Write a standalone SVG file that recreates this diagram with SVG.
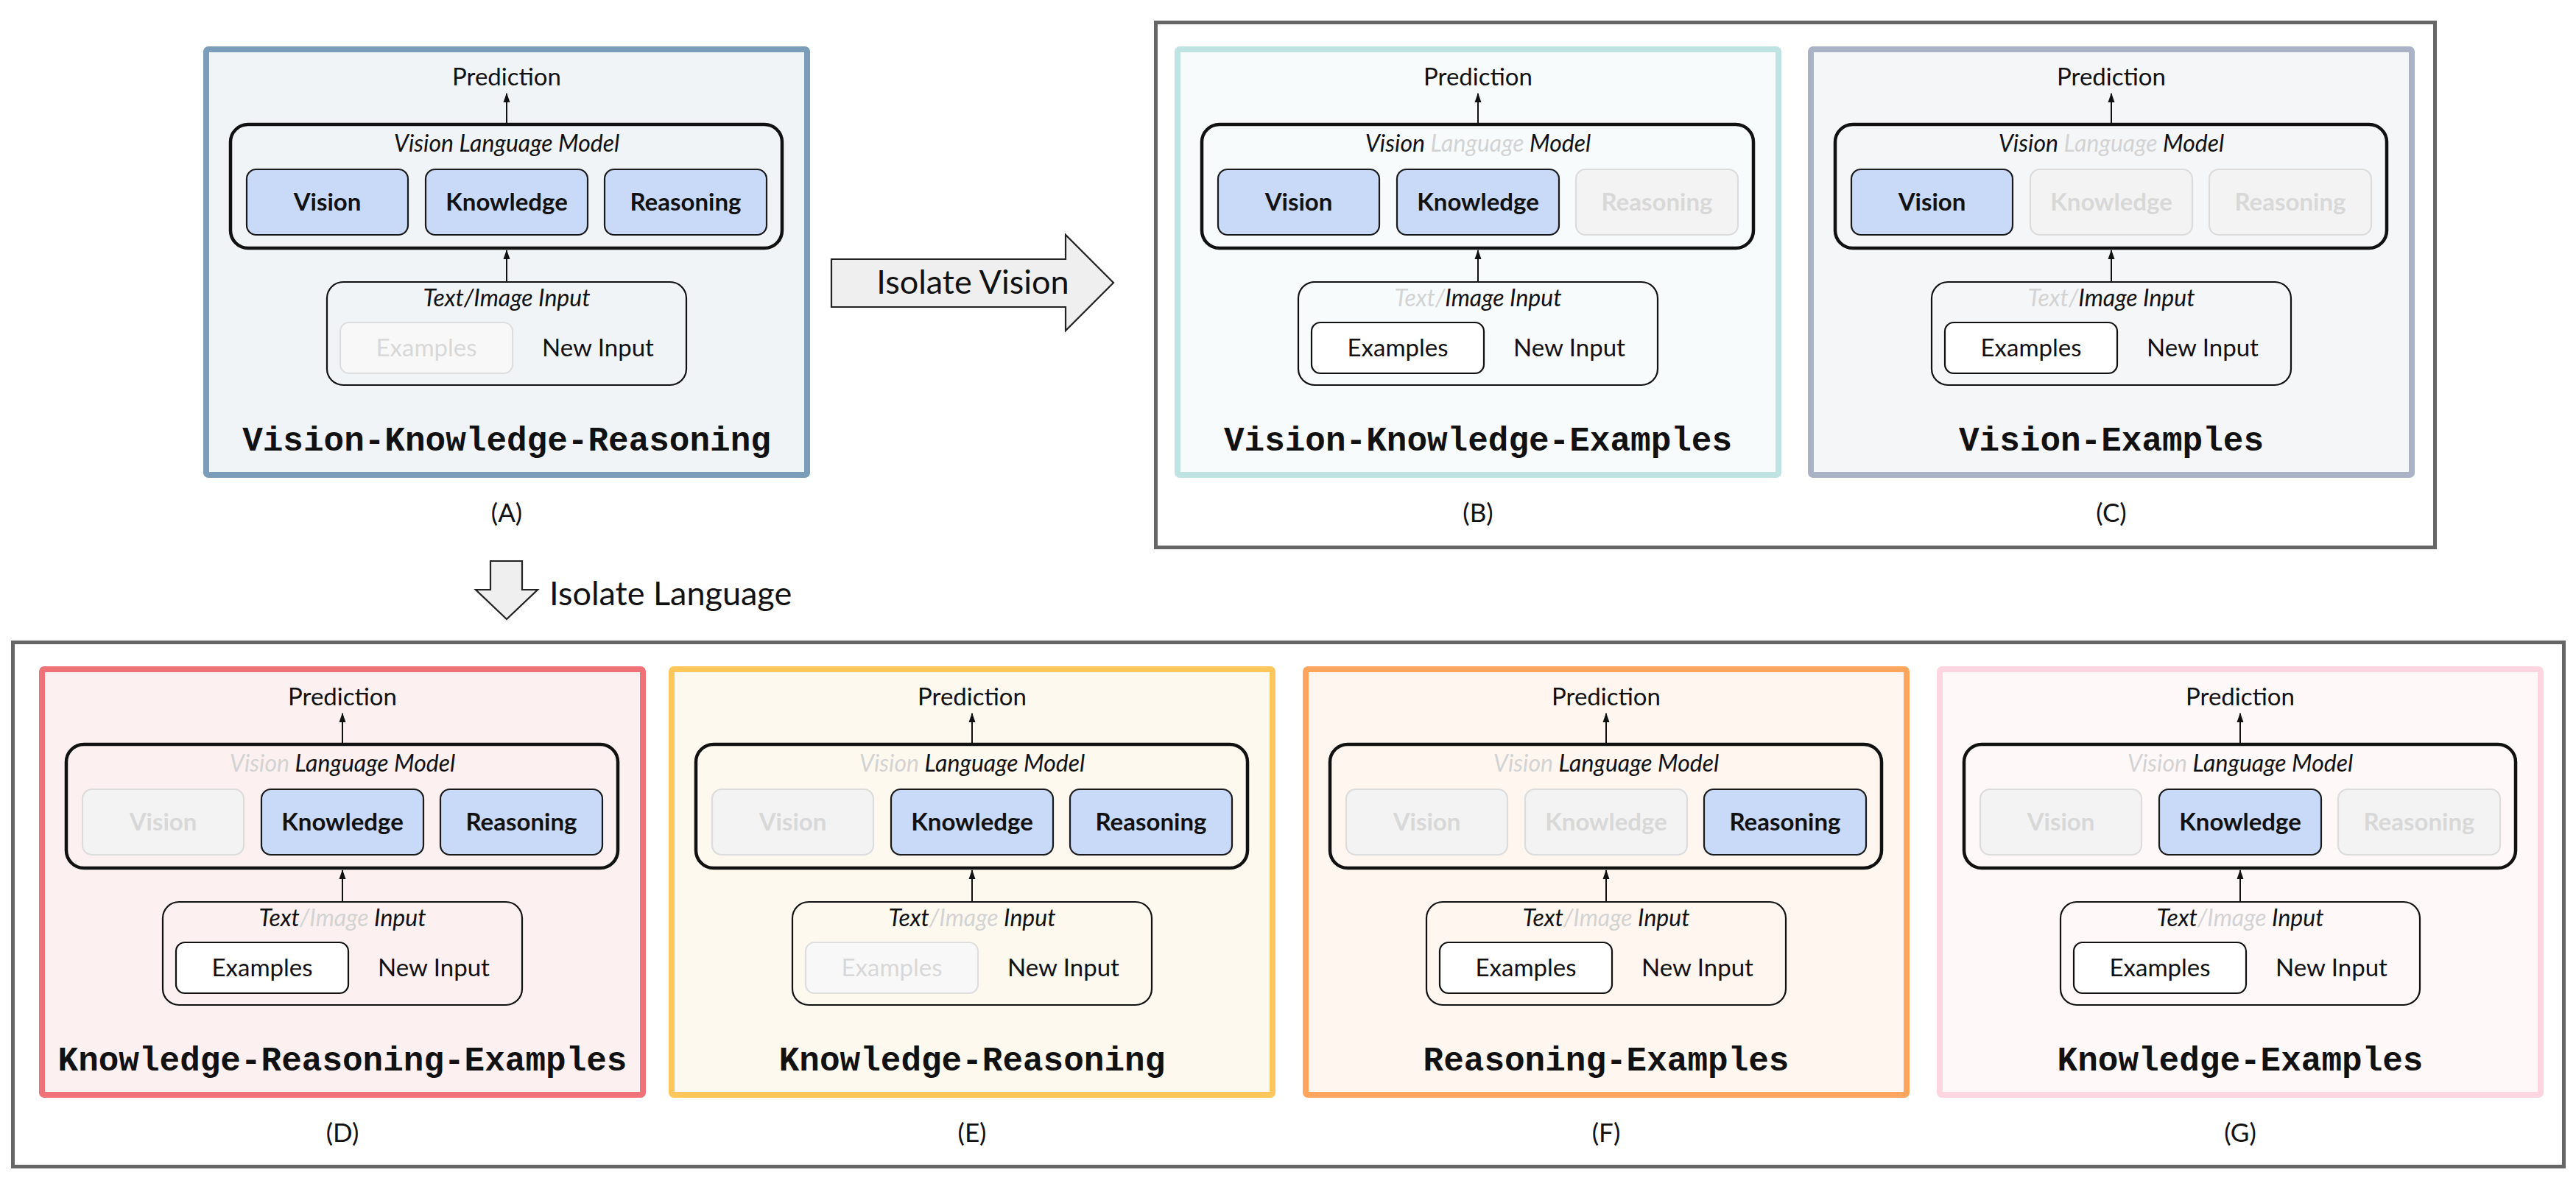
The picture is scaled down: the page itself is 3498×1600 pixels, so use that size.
<svg xmlns="http://www.w3.org/2000/svg" width="3498" height="1600" viewBox="0 0 3498 1600">
<style>
text{font-family:Lato,"Open Sans","Liberation Sans",sans-serif;fill:#111;text-anchor:middle}
.pred{font-size:33px}
.it{font-size:32px;font-style:italic}
.b{font-size:33px;font-weight:bold}
.r{font-size:33px}
.title{font-family:"Liberation Mono","Courier New",monospace;font-weight:bold;font-size:46px}
.lab{font-size:35px}
.fd{fill:#d3d3d3}
.fdt{fill:#d8d8d8}
.panel{stroke-width:8}
.pA{fill:#f1f4f6;stroke:#7b9db9}
.pB{fill:#f7fbfc;stroke:#bfe3e3}
.pC{fill:#f5f6f8;stroke:#aab3c6}
.pD{fill:#fcf0f0;stroke:#ee7278}
.pE{fill:#fef9ee;stroke:#ffc75b}
.pF{fill:#fff6ef;stroke:#ffa55e}
.pG{fill:#fff8f9;stroke:#ffd5e2}
.vlm{fill:none;stroke:#111;stroke-width:4.5}
.inp{fill:none;stroke:#111;stroke-width:2.2}
.on{fill:#c9daf8;stroke:#1a1a1a;stroke-width:2.2}
.off{fill:#f3f3f3;stroke:#dcdcdc;stroke-width:2.2}
.exon{fill:#fff;stroke:#111;stroke-width:2.2}
.exoff{fill:#f8f8f8;stroke:#dedede;stroke-width:2.2}
.outer{fill:none;stroke:#666;stroke-width:5}
.big{fill:#efefef;stroke:#222;stroke-width:2.2}
.bigt{font-size:45px}
.conn line{stroke:#111;stroke-width:2;marker-end:url(#ah)}
</style>
<defs>
<marker id="ah" markerUnits="userSpaceOnUse" markerWidth="14" markerHeight="10" refX="12" refY="5" orient="auto">
<path d="M0,0.5 L13,5 L0,9.5 z" fill="#111"/>
</marker>
</defs>
<rect width="3498" height="1600" fill="#fff"/>

<g id="group-vision"><rect class="outer" x="1569.5" y="30.5" width="1737" height="713"/></g>
<g id="group-language"><rect class="outer" x="17.5" y="872.5" width="3464" height="712"/></g>

<g id="isolate-vision">
<polygon class="big" points="1129,352 1447,352 1447,319 1512,384 1447,449 1447,417 1129,417"/>
<text class="bigt" x="1321" y="399">Isolate Vision</text>
</g>
<g id="isolate-language">
<polygon class="big" points="666,762 709,762 709,801 730,801 688,841 646,801 666,801"/>
<text class="bigt" x="746" y="822" style="text-anchor:start">Isolate Language</text>
</g>

<!-- A -->
<g id="panel-A" transform="translate(688,0)">
<rect class="panel pA" x="-408" y="67" width="816" height="578" rx="3"/>
<text class="pred" x="0" y="116">Prediction</text>
<rect class="vlm" x="-375" y="169" width="749" height="168" rx="24"/>
<text class="it" x="0" y="206">Vision Language Model</text>
<rect class="on" x="-353" y="230" width="219" height="89" rx="13"/><text class="b" x="-243.5" y="286">Vision</text>
<rect class="on" x="-110" y="230" width="220" height="89" rx="13"/><text class="b" x="0" y="286">Knowledge</text>
<rect class="on" x="133" y="230" width="220" height="89" rx="13"/><text class="b" x="243" y="286">Reasoning</text>
<rect class="inp" x="-244" y="383" width="488" height="140" rx="22"/>
<text class="it" x="0" y="416">Text/Image Input</text>
<rect class="exoff" x="-226" y="438" width="234" height="69" rx="12"/><text class="r fdt" x="-109" y="484">Examples</text>
<text class="r" x="124" y="484">New Input</text>
<text class="title" x="0" y="612">Vision-Knowledge-Reasoning</text>
<text class="lab" x="0" y="709">(A)</text>
</g>

<!-- B -->
<g id="panel-B" transform="translate(2007,0)">
<rect class="panel pB" x="-408" y="67" width="816" height="578" rx="3"/>
<text class="pred" x="0" y="116">Prediction</text>
<rect class="vlm" x="-375" y="169" width="749" height="168" rx="24"/>
<text class="it" x="0" y="206">Vision <tspan class="fd">Language</tspan> Model</text>
<rect class="on" x="-353" y="230" width="219" height="89" rx="13"/><text class="b" x="-243.5" y="286">Vision</text>
<rect class="on" x="-110" y="230" width="220" height="89" rx="13"/><text class="b" x="0" y="286">Knowledge</text>
<rect class="off" x="133" y="230" width="220" height="89" rx="13"/><text class="b fdt" x="243" y="286">Reasoning</text>
<rect class="inp" x="-244" y="383" width="488" height="140" rx="22"/>
<text class="it" x="0" y="416"><tspan class="fd">Text/</tspan>Image Input</text>
<rect class="exon" x="-226" y="438" width="234" height="69" rx="12"/><text class="r" x="-109" y="484">Examples</text>
<text class="r" x="124" y="484">New Input</text>
<text class="title" x="0" y="612">Vision-Knowledge-Examples</text>
<text class="lab" x="0" y="709">(B)</text>
</g>

<!-- C -->
<g id="panel-C" transform="translate(2867,0)">
<rect class="panel pC" x="-408" y="67" width="816" height="578" rx="3"/>
<text class="pred" x="0" y="116">Prediction</text>
<rect class="vlm" x="-375" y="169" width="749" height="168" rx="24"/>
<text class="it" x="0" y="206">Vision <tspan class="fd">Language</tspan> Model</text>
<rect class="on" x="-353" y="230" width="219" height="89" rx="13"/><text class="b" x="-243.5" y="286">Vision</text>
<rect class="off" x="-110" y="230" width="220" height="89" rx="13"/><text class="b fdt" x="0" y="286">Knowledge</text>
<rect class="off" x="133" y="230" width="220" height="89" rx="13"/><text class="b fdt" x="243" y="286">Reasoning</text>
<rect class="inp" x="-244" y="383" width="488" height="140" rx="22"/>
<text class="it" x="0" y="416"><tspan class="fd">Text/</tspan>Image Input</text>
<rect class="exon" x="-226" y="438" width="234" height="69" rx="12"/><text class="r" x="-109" y="484">Examples</text>
<text class="r" x="124" y="484">New Input</text>
<text class="title" x="0" y="612">Vision-Examples</text>
<text class="lab" x="0" y="709">(C)</text>
</g>

<!-- D -->
<g id="panel-D" transform="translate(465,842)">
<rect class="panel pD" x="-408" y="67" width="816" height="578" rx="3"/>
<text class="pred" x="0" y="116">Prediction</text>
<rect class="vlm" x="-375" y="169" width="749" height="168" rx="24"/>
<text class="it" x="0" y="206"><tspan class="fd">Vision</tspan> Language Model</text>
<rect class="off" x="-353" y="230" width="219" height="89" rx="13"/><text class="b fdt" x="-243.5" y="286">Vision</text>
<rect class="on" x="-110" y="230" width="220" height="89" rx="13"/><text class="b" x="0" y="286">Knowledge</text>
<rect class="on" x="133" y="230" width="220" height="89" rx="13"/><text class="b" x="243" y="286">Reasoning</text>
<rect class="inp" x="-244" y="383" width="488" height="140" rx="22"/>
<text class="it" x="0" y="416">Text<tspan class="fd">/Image</tspan> Input</text>
<rect class="exon" x="-226" y="438" width="234" height="69" rx="12"/><text class="r" x="-109" y="484">Examples</text>
<text class="r" x="124" y="484">New Input</text>
<text class="title" x="0" y="612">Knowledge-Reasoning-Examples</text>
<text class="lab" x="0" y="709">(D)</text>
</g>

<!-- E -->
<g id="panel-E" transform="translate(1320,842)">
<rect class="panel pE" x="-408" y="67" width="816" height="578" rx="3"/>
<text class="pred" x="0" y="116">Prediction</text>
<rect class="vlm" x="-375" y="169" width="749" height="168" rx="24"/>
<text class="it" x="0" y="206"><tspan class="fd">Vision</tspan> Language Model</text>
<rect class="off" x="-353" y="230" width="219" height="89" rx="13"/><text class="b fdt" x="-243.5" y="286">Vision</text>
<rect class="on" x="-110" y="230" width="220" height="89" rx="13"/><text class="b" x="0" y="286">Knowledge</text>
<rect class="on" x="133" y="230" width="220" height="89" rx="13"/><text class="b" x="243" y="286">Reasoning</text>
<rect class="inp" x="-244" y="383" width="488" height="140" rx="22"/>
<text class="it" x="0" y="416">Text<tspan class="fd">/Image</tspan> Input</text>
<rect class="exoff" x="-226" y="438" width="234" height="69" rx="12"/><text class="r fdt" x="-109" y="484">Examples</text>
<text class="r" x="124" y="484">New Input</text>
<text class="title" x="0" y="612">Knowledge-Reasoning</text>
<text class="lab" x="0" y="709">(E)</text>
</g>

<!-- F -->
<g id="panel-F" transform="translate(2181,842)">
<rect class="panel pF" x="-408" y="67" width="816" height="578" rx="3"/>
<text class="pred" x="0" y="116">Prediction</text>
<rect class="vlm" x="-375" y="169" width="749" height="168" rx="24"/>
<text class="it" x="0" y="206"><tspan class="fd">Vision</tspan> Language Model</text>
<rect class="off" x="-353" y="230" width="219" height="89" rx="13"/><text class="b fdt" x="-243.5" y="286">Vision</text>
<rect class="off" x="-110" y="230" width="220" height="89" rx="13"/><text class="b fdt" x="0" y="286">Knowledge</text>
<rect class="on" x="133" y="230" width="220" height="89" rx="13"/><text class="b" x="243" y="286">Reasoning</text>
<rect class="inp" x="-244" y="383" width="488" height="140" rx="22"/>
<text class="it" x="0" y="416">Text<tspan class="fd">/Image</tspan> Input</text>
<rect class="exon" x="-226" y="438" width="234" height="69" rx="12"/><text class="r" x="-109" y="484">Examples</text>
<text class="r" x="124" y="484">New Input</text>
<text class="title" x="0" y="612">Reasoning-Examples</text>
<text class="lab" x="0" y="709">(F)</text>
</g>

<!-- G -->
<g id="panel-G" transform="translate(3042,842)">
<rect class="panel pG" x="-408" y="67" width="816" height="578" rx="3"/>
<text class="pred" x="0" y="116">Prediction</text>
<rect class="vlm" x="-375" y="169" width="749" height="168" rx="24"/>
<text class="it" x="0" y="206"><tspan class="fd">Vision</tspan> Language Model</text>
<rect class="off" x="-353" y="230" width="219" height="89" rx="13"/><text class="b fdt" x="-243.5" y="286">Vision</text>
<rect class="on" x="-110" y="230" width="220" height="89" rx="13"/><text class="b" x="0" y="286">Knowledge</text>
<rect class="off" x="133" y="230" width="220" height="89" rx="13"/><text class="b fdt" x="243" y="286">Reasoning</text>
<rect class="inp" x="-244" y="383" width="488" height="140" rx="22"/>
<text class="it" x="0" y="416">Text<tspan class="fd">/Image</tspan> Input</text>
<rect class="exon" x="-226" y="438" width="234" height="69" rx="12"/><text class="r" x="-109" y="484">Examples</text>
<text class="r" x="124" y="484">New Input</text>
<text class="title" x="0" y="612">Knowledge-Examples</text>
<text class="lab" x="0" y="709">(G)</text>
</g>

<g id="connectors" class="conn">
<line x1="688" y1="167" x2="688" y2="127"/><line x1="688" y1="382" x2="688" y2="340"/>
<line x1="2007" y1="167" x2="2007" y2="127"/><line x1="2007" y1="382" x2="2007" y2="340"/>
<line x1="2867" y1="167" x2="2867" y2="127"/><line x1="2867" y1="382" x2="2867" y2="340"/>
<line x1="465" y1="1009" x2="465" y2="969"/><line x1="465" y1="1224" x2="465" y2="1182"/>
<line x1="1320" y1="1009" x2="1320" y2="969"/><line x1="1320" y1="1224" x2="1320" y2="1182"/>
<line x1="2181" y1="1009" x2="2181" y2="969"/><line x1="2181" y1="1224" x2="2181" y2="1182"/>
<line x1="3042" y1="1009" x2="3042" y2="969"/><line x1="3042" y1="1224" x2="3042" y2="1182"/>
</g>
</svg>
